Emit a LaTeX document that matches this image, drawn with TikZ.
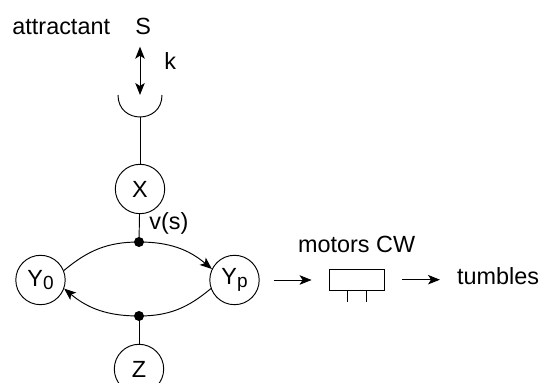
\documentclass[tikz,border=0pt]{standalone}
\usepackage{fontspec}
\setmainfont{Liberation Sans}
\usetikzlibrary{arrows.meta}
\begin{document}
\begin{tikzpicture}[x=1pt,y=1pt,line width=0.95pt,
  font=\fontsize{23.4}{28}\selectfont,
  >={Stealth[length=12pt,width=9.5pt,inset=3pt]},
  state/.style={circle,draw,minimum size=49.4pt,inner sep=0pt},
  blob/.style={circle,fill,inner sep=0pt,minimum size=10pt},
  lbl/.style={inner sep=0pt,anchor=base west},
  motor/.style={draw,minimum width=55.3pt,minimum height=20.7pt,inner sep=0pt}]
\useasboundingbox (0,0) rectangle (547,383);
% labels
\node[lbl] (att) at (12,348.5) {attractant};
\node[lbl] (S) at (135,348) {S};
\node[lbl] (k) at (164,313) {k};
\node[lbl] (vs) at (149,153) {v(s)};
\node[lbl] (mot) at (297.7,130.7) {motors CW};
\node[lbl] (tum) at (456.7,98.7) {tumbles};
% receptor
\coordinate (ktop) at (140,336.3);
\coordinate (cupc) at (140,288);
\coordinate (cupb) at (140,266);
\draw[<->] (ktop) -- (cupc);
\draw (118,288) .. controls (118,258.7) and (162,258.7) .. (162,288);
% states
\node[state] (X) at (140,194) {X};
\node[state] (Z) at (139,14) {Z};
\node[state] (Y0) at (40.5,103) {Y\raisebox{-3pt}{\fontsize{19}{19}\selectfont 0}};
\node[state] (Yp) at (234.5,103) {Y\raisebox{-3pt}{\fontsize{19}{19}\selectfont p}};
\node[blob] (d1) at (139,141) {};
\node[blob] (d2) at (139,67) {};
% connections
\draw (cupb) -- (X);
\draw (X) -- (d1.center);
\draw (d2.center) -- (Z);
\draw[->] (Y0.22) to[out=40,in=180] (d1.center) to[out=0,in=140] (Yp.154);
\draw[->] (Yp.200) to[out=220,in=0] (d2.center) to[out=180,in=-40] (Y0.340);
% motor
\node[motor] (box) at (356.7,103.3) {};
\coordinate (legA) at (347.7,81.3);
\coordinate (legB) at (366,81.3);
\draw (box.south -| legA) -- (legA);
\draw (box.south -| legB) -- (legB);
\draw[->,shorten <=14pt,shorten >=17pt] (Yp.east) -- (Yp.east -| box.west);
\draw[->,shorten <=17.4pt,shorten >=16.7pt] (box.east) -- (box.east -| tum.west);
\end{tikzpicture}
\end{document}
